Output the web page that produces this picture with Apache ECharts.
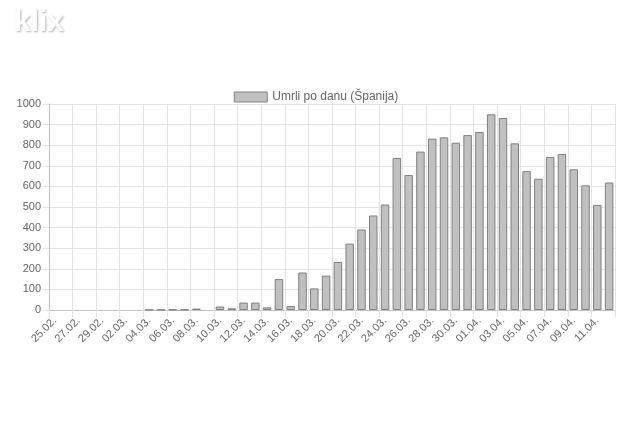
<!DOCTYPE html>
<html>
<head>
<meta charset="utf-8">
<script src="https://cdn.jsdelivr.net/npm/echarts@6/dist/echarts.min.js"></script>
<style>
html, body { margin: 0; padding: 0; background: #fff; }
#chart { width: 632px; height: 421px; }
</style>
</head>
<body>
<div id="chart"></div>
<script>
var seriesName = 'Umrli po danu (Španija)';

var days = [
    '25.02.', '26.02.', '27.02.', '28.02.', '29.02.',
    '01.03.', '02.03.', '03.03.', '04.03.', '05.03.', '06.03.', '07.03.', '08.03.', '09.03.', '10.03.',
    '11.03.', '12.03.', '13.03.', '14.03.', '15.03.', '16.03.', '17.03.', '18.03.', '19.03.', '20.03.',
    '21.03.', '22.03.', '23.03.', '24.03.', '25.03.', '26.03.', '27.03.', '28.03.', '29.03.', '30.03.', '31.03.',
    '01.04.', '02.04.', '03.04.', '04.04.', '05.04.', '06.04.', '07.04.', '08.04.', '09.04.', '10.04.',
    '11.04.', '12.04.'
];

var deaths = [
    0, 0, 0, 0, 0,
    0, 0, 0, 1, 1, 2, 2, 7, 0, 17,
    8, 36, 36, 13, 150, 19, 182, 105, 167, 233,
    322, 391, 459, 512, 738, 655, 769, 832, 838, 812, 849,
    864, 950, 932, 809, 674, 637, 743, 757, 683, 605,
    510, 619
];

var yTicks = [0, 100, 200, 300, 400, 500, 600, 700, 800, 900, 1000];

var font = 'Liberation Sans, Arial, sans-serif';
var myChart = echarts.init(document.getElementById('chart'));

// zero days draw no bar at all
var barData = deaths.map(function (v) { return v === 0 ? null : v; });

var option = {
    backgroundColor: '#fff',
    animation: false,
    graphic: [{
        type: 'text',
        left: 14,
        top: 8,
        style: {
            text: 'klix',
            fontFamily: font,
            fontWeight: 'bold',
            fontSize: 30,
            fill: '#ffffff',
            textShadowColor: 'rgba(0,0,0,0.3)',
            textShadowBlur: 2,
            textShadowOffsetX: 1,
            textShadowOffsetY: 1
        }
    }],
    legend: {
        data: [seriesName],
        top: 86,
        left: 'center',
        itemWidth: 33,
        itemHeight: 10,
        icon: 'rect',
        itemStyle: { color: '#c0c0c0', borderColor: '#808080', borderWidth: 1 },
        textStyle: { color: '#666', fontSize: 12, fontFamily: font }
    },
    grid: { left: 49, right: 17, top: 104, bottom: 111, containLabel: false },
    xAxis: {
        type: 'category',
        data: days,
        boundaryGap: true,
        axisLine: { lineStyle: { color: '#c0c0c0' } },
        axisTick: { show: true, interval: 1, length: 7, lineStyle: { color: '#e4e4e4' } },
        splitLine: { show: true, interval: 1, lineStyle: { color: '#e4e4e4' } },
        axisLabel: {
            interval: 1,
            rotate: 45,
            margin: 9,
            color: '#666',
            fontSize: 11,
            fontFamily: font
        }
    },
    yAxis: {
        type: 'value',
        min: yTicks[0],
        max: yTicks[yTicks.length - 1],
        interval: 100,
        axisLine: { show: true, lineStyle: { color: '#c0c0c0' } },
        axisTick: { show: true, length: 6, lineStyle: { color: '#e4e4e4' } },
        splitLine: { lineStyle: { color: '#e4e4e4' } },
        axisLabel: {
            margin: 8, color: '#666', fontSize: 11, fontFamily: font,
            formatter: function (v) { return String(v); }
        }
    },
    series: [{
        name: seriesName,
        type: 'bar',
        data: barData,
        barWidth: '72%',
        itemStyle: { color: '#c0c0c0', borderColor: '#808080', borderWidth: 1 }
    }]
};

myChart.setOption(option);
</script>
</body>
</html>
